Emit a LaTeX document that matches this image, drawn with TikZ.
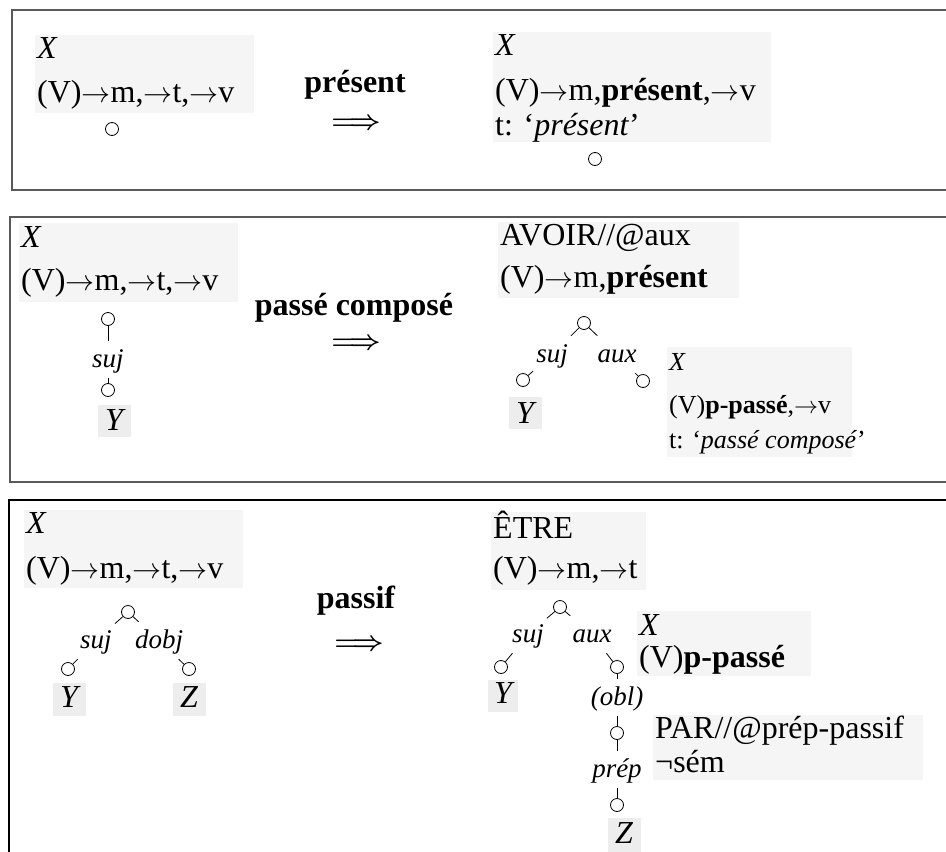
\RequirePackage{fix-cm}
\documentclass[tikz,border=0pt]{standalone}
\usepackage{fontspec}
\setmainfont{Liberation Serif}
\newcommand\tto{{\fontsize{29}{30}\selectfont$\rightarrow$}}
\newcommand\implsign{\mbox{{\boldmath$\Longrightarrow$}}}
\tikzset{
  panelrule/.style={line width=1.5pt, draw=black!65},
  panelruledark/.style={line width=1.1pt, draw=black},
  shade/.style={fill=black!4},
  leafshade/.style={fill=black!7},
  feat/.style={anchor=base west, inner sep=0pt, font=\fontsize{32}{36}\selectfont},
  featsmall/.style={anchor=base west, inner sep=0pt, font=\fontsize{26}{30}\selectfont},
  leaf/.style={anchor=base, inner sep=0pt, font=\itshape\fontsize{32}{36}\selectfont},
  opname/.style={anchor=base, inner sep=0pt, font=\bfseries\fontsize{32}{36}\selectfont},
  opsign/.style={inner sep=0pt, font=\fontsize{27}{30}\selectfont},
  knot/.style={circle, draw=black, fill=white, line width=0.8pt, minimum size=13pt, inner sep=0pt},
  rel/.style={anchor=base, font=\itshape\fontsize{27}{30}\selectfont, text height=20pt, text depth=5pt, inner xsep=3pt, inner ysep=6pt},
  arc/.style={draw=black, line width=0.8pt},
}

\begin{document}
\begin{tikzpicture}[x=1pt, y=-1pt]
\useasboundingbox (0,0) rectangle (946,852);
\draw[panelrule] (946,10) -- (12,10) -- (12,190) -- (946,190);
\fill[shade] (35,35) rectangle (254,113);
\node[feat] (aLx) at (37,58) {\textit{X}};
\node[feat] (aLv) at (37,102) {(V)\tto m,\tto t,\tto v};
\node[knot] (aLk) at (112,129) {};
\node[opname] (aOp) at (355,92) {présent};
\node[opsign] (aTo) at (356,124) {\implsign};
\fill[shade] (493,32) rectangle (771,142);
\node[feat] (aRx) at (495,55) {\textit{X}};
\node[feat] (aRv) at (495,100) {(V)\tto m,\textbf{présent},\tto v};
\node[feat] (aRt) at (495,135) {t: ‘\textit{présent}’};
\node[knot] (aRk) at (595,159) {};
\draw[panelrule] (946,217) -- (10,217) -- (10,482) -- (946,482);
\fill[shade] (19,223) rectangle (238,302);
\node[feat] (bLx) at (21,247) {\textit{X}};
\node[feat] (bLv) at (21,290) {(V)\tto m,\tto t,\tto v};
\node[knot] (bLk) at (108,319) {};
\node[rel] (bLsuj) at (108,367) {suj};
\node[knot] (bLy) at (108,390) {};
\draw[arc] (bLk) -- (bLsuj);
\draw[arc] (bLsuj) -- (bLy);
\fill[leafshade] (98,405) rectangle (131,437);
\node[leaf] (bLY) at (114,430) {Y};
\node[opname] (bOp) at (354,315) {passé composé};
\node[opsign] (bTo) at (356,344) {\implsign};
\fill[shade] (498,222) rectangle (739,298);
\node[feat] (bRa) at (500,245) {AVOIR//@aux};
\node[feat] (bRv) at (500,287) {(V)\tto m,\textbf{présent}};
\node[knot] (bRk) at (584,323) {};
\node[rel] (bRsuj) at (552,362) {suj};
\node[rel] (bRaux) at (617,362) {aux};
\node[knot] (bRy) at (523,380) {};
\node[knot] (bRx) at (643,381) {};
\draw[arc] (bRk) -- (bRsuj);
\draw[arc] (bRsuj) -- (bRy);
\draw[arc] (bRk) -- (bRaux);
\draw[arc] (bRaux) -- (bRx);
\fill[leafshade] (509,397) rectangle (542,429);
\node[leaf] (bRY) at (525,423) {Y};
\fill[shade] (667,347) rectangle (852,457);
\node[featsmall] (bRxx) at (669,370) {\textit{X}};
\node[featsmall] (bRxv) at (669,413) {(V)\textbf{p-passé},{\fontsize{24}{26}\selectfont$\rightarrow$}v};
\node[featsmall] (bRxt) at (669,448) {t: ‘\textit{passé composé}’};
\draw[panelruledark] (946,500) -- (9,500) -- (9,860);
\fill[shade] (24,510) rectangle (243,588);
\node[feat] (cLx) at (26,533) {\textit{X}};
\node[feat] (cLv) at (26,578) {(V)\tto m,\tto t,\tto v};
\node[knot] (cLk) at (128,612) {};
\node[rel] (cLsuj) at (96,648) {suj};
\node[rel] (cLdobj) at (159,648) {dobj};
\node[knot] (cLy) at (68,669) {};
\node[knot] (cLz) at (189,669) {};
\draw[arc] (cLk) -- (cLsuj);
\draw[arc] (cLsuj) -- (cLy);
\draw[arc] (cLk) -- (cLdobj);
\draw[arc] (cLdobj) -- (cLz);
\fill[leafshade] (53,683) rectangle (86,716);
\node[leaf] (cLY) at (69,707) {Y};
\fill[leafshade] (173,683) rectangle (206,716);
\node[leaf] (cLZ) at (189,707) {Z};
\node[opname] (cOp) at (356,608) {passif};
\node[opsign] (cTo) at (359,645) {\implsign};
\fill[shade] (491,512) rectangle (646,590);
\node[feat] (cRe) at (493,538) {ÊTRE};
\node[feat] (cRv) at (493,578) {(V)\tto m,\tto t};
\node[knot] (cRk) at (560,607) {};
\node[rel] (cRsuj) at (528,642) {suj};
\node[rel] (cRaux) at (592,642) {aux};
\node[knot] (cRy) at (501,667) {};
\node[knot] (cRx) at (617,667) {};
\draw[arc] (cRk) -- (cRsuj);
\draw[arc] (cRsuj) -- (cRy);
\draw[arc] (cRk) -- (cRaux);
\draw[arc] (cRaux) -- (cRx);
\fill[leafshade] (488,680) rectangle (518,712);
\node[leaf] (cRY) at (503,703) {Y};
\node[rel] (cRobl) at (617,705) {(obl)};
\node[knot] (cRp) at (617,733) {};
\node[rel] (cRprep) at (617,777) {prép};
\node[knot] (cRz) at (617,805) {};
\draw[arc] (cRx) -- (cRobl);
\draw[arc] (cRobl) -- (cRp);
\draw[arc] (cRp) -- (cRprep);
\draw[arc] (cRprep) -- (cRz);
\fill[leafshade] (608,818) rectangle (641,860);
\node[leaf] (cRZ) at (624,843) {Z};
\fill[shade] (637,611) rectangle (811,676);
\node[feat] (cRxx) at (639,635) {\textit{X}};
\node[feat] (cRxv) at (639,667) {(V)\textbf{p-passé}};
\fill[shade] (653,715) rectangle (923,780);
\node[feat] (cRpa) at (655,738) {PAR//@prép-passif};
\node[feat] (cRps) at (655,772) {¬sém};
\end{tikzpicture}
\end{document}
